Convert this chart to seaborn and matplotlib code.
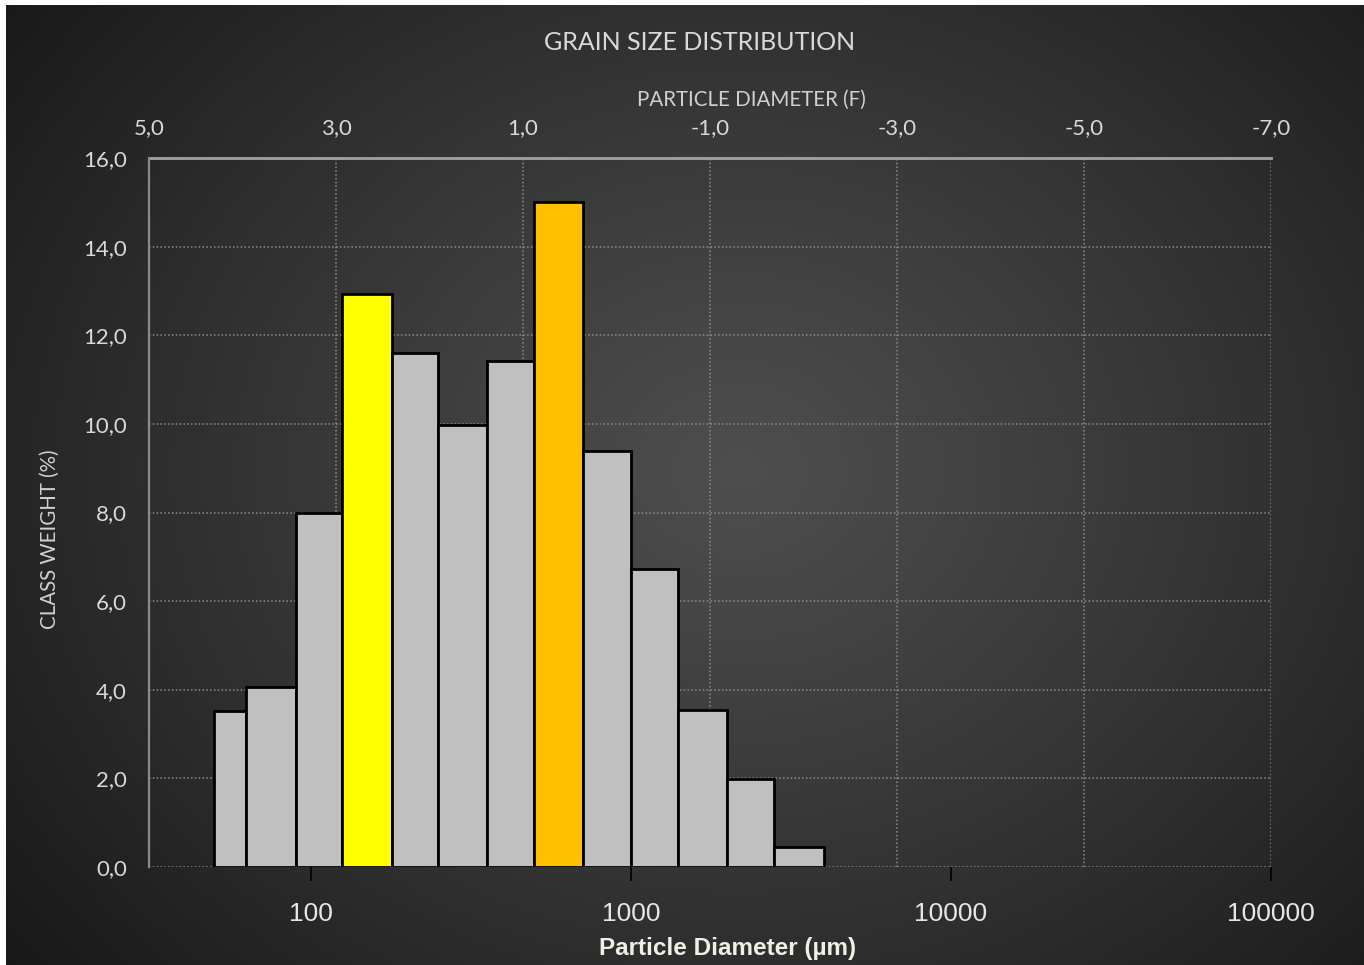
import numpy as np
import pandas as pd
import matplotlib
matplotlib.use("Agg")
import matplotlib.pyplot as plt
from matplotlib.ticker import NullLocator, FixedLocator
import seaborn as sns

# ---------------- data ----------------
sieve_edges_um = [50, 63, 90, 125, 180, 250, 355, 500, 710, 1000, 1400, 2000, 2800, 4000]
class_weight = [3.52, 4.06, 8.0, 12.92, 11.6, 9.98, 11.42, 15.0, 9.38, 6.73, 3.54, 1.99, 0.45]
bar_colors = ["#C0C0C0", "#C0C0C0", "#C0C0C0", "#FFFF00", "#C0C0C0", "#C0C0C0", "#C0C0C0",
              "#FFC000", "#C0C0C0", "#C0C0C0", "#C0C0C0", "#C0C0C0", "#C0C0C0"]
size_ticks = [100, 1000, 10000, 100000]
size_labels = ["100", "1000", "10000", "100000"]
phi_ticks = [5, 3, 1, -1, -3, -5, -7]
phi_labels = ["5,0", "3,0", "1,0", "-1,0", "-3,0", "-5,0", "-7,0"]
y_ticks = [0, 2, 4, 6, 8, 10, 12, 14, 16]
y_labels = ["0,0", "2,0", "4,0", "6,0", "8,0", "10,0", "12,0", "14,0", "16,0"]

title = "GRAIN SIZE DISTRIBUTION"
top_label = "PARTICLE DIAMETER (F)"
y_label = "CLASS WEIGHT (%)"
x_label = "Particle Diameter (µm)"

# ---------------- style ----------------
sns.set_theme(style="white")
plt.rcParams["font.family"] = ["Lato", "DejaVu Sans"]

W, H = 1364, 965
fig = plt.figure(figsize=(W / 100, H / 100), dpi=100, facecolor="white")

# background gradient panel
bg = fig.add_axes([6 / W, 0, (W - 6) / W, (H - 5) / H])
bg.set_zorder(-10)
bh, bw = H - 5, W - 6
yy, xx = np.mgrid[0:bh, 0:bw]
cx, cy = 740 - 6, 470 - 5
r = np.sqrt(((xx - cx) / 720.0) ** 2 + ((yy - cy) / 600.0) ** 2)
val = 78 - 40 * np.clip(r, 0, 1.3) ** 1.1
img = np.dstack([val, val, val]) / 255.0
bg.imshow(img, aspect="auto", interpolation="bilinear")
bg.set_axis_off()

# main axes
L, R, T, B = 149, 1271, 158, 867
ax = fig.add_axes([L / W, 1 - B / H, (R - L) / W, (B - T) / H])
ax.patch.set_alpha(0)

edges = np.array(sieve_edges_um, dtype=float)
df = pd.DataFrame({"size": np.sqrt(edges[:-1] * edges[1:]), "weight": class_weight})
sns.histplot(data=df, x="size", weights="weight", bins=list(np.log10(edges)), log_scale=True,
             ax=ax, color="#C0C0C0", edgecolor="black", linewidth=2.0, alpha=1, zorder=3)
for p, c in zip(ax.patches, bar_colors):
    p.set_facecolor(c)
    p.set_alpha(1)

ax.set_xlim(31.25, 100000)
ax.set_ylim(0, 16)
ax.xaxis.set_major_locator(FixedLocator(size_ticks))
ax.xaxis.set_minor_locator(NullLocator())
ax.set_xticklabels(size_labels, family="Liberation Sans", fontsize=19, color="#e6e6e6")
ax.tick_params(axis="x", which="major", direction="out", length=10, width=1.2,
               color="black", pad=15, bottom=True)
ax.set_yticks(y_ticks)
ax.set_yticklabels(y_labels, fontsize=16, color="#d9d9d9")
ax.tick_params(axis="y", length=0, pad=16)
ax.set_xlabel("")
ax.set_ylabel("")
ax.grid(axis="y", color="#8c8c8c", linestyle=(0, (1, 1.5)), linewidth=1.1)
ax.grid(axis="x", visible=False)
ax.set_axisbelow(True)
for s in ["top", "right", "bottom"]:
    ax.spines[s].set_visible(False)
ax.spines["left"].set_color("#8a8a8a")
ax.spines["left"].set_linewidth(1.6)

# top phi axis
ax2 = ax.twiny()
ax2.set_xscale("linear")
ax2.set_xlim(5, -7)
ax2.set_xticks(phi_ticks)
ax2.set_xticklabels(phi_labels, fontsize=16, color="#d9d9d9")
ax2.tick_params(axis="x", length=0, pad=14)
ax2.grid(axis="x", color="#8c8c8c", linestyle=(0, (1, 1.5)), linewidth=1.1)
for s in ["left", "right", "bottom"]:
    ax2.spines[s].set_visible(False)
ax2.spines["top"].set_color("#a6a6a6")
ax2.spines["top"].set_linewidth(2)
ax2.set_zorder(-1)
ax.set_zorder(0)
ax2.patch.set_alpha(0)

# texts
def fy(py):
    return 1 - py / H

fig.text(700 / W, fy(43), title, fontsize=18, color="#d9d9d9", ha="center", va="center")
fig.text(751 / W, fy(100), top_label, fontsize=14.8, color="#d0d0d0", ha="center", va="center")
fig.text(50 / W, fy(539), y_label, fontsize=14.8, color="#d0d0d0", ha="center", va="center",
         rotation=90)
fig.text(728 / W, fy(948), x_label, fontsize=17.5, color="#f0efe4", ha="center", va="center",
         weight="bold", family="Liberation Sans")

fig.savefig("out.png", dpi=100, facecolor="white")
